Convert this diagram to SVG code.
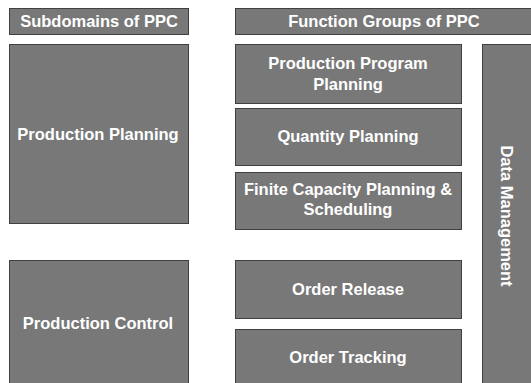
<svg xmlns="http://www.w3.org/2000/svg" width="531" height="383" viewBox="0 0 531 383">
  <style>
    .box { fill: #787878; stroke: #404040; stroke-width: 1; }
    .lbl { font-family: "Liberation Sans", Arial, sans-serif; font-weight: bold; font-size: 16.5px; fill: #ffffff; text-anchor: middle; }
  </style>
  <rect width="531" height="383" fill="#ffffff"/>

  <!-- left column: subdomains -->
  <g id="subdomains-header">
    <rect class="box" x="9.5" y="8.5" width="179" height="26"/>
    <text class="lbl" x="99" y="27">Subdomains of PPC</text>
  </g>
  <g id="production-planning">
    <rect class="box" x="9.5" y="44.5" width="179" height="179"/>
    <text class="lbl" x="98" y="140">Production Planning</text>
  </g>
  <g id="production-control">
    <rect class="box" x="9.5" y="260.5" width="179" height="140"/>
    <text class="lbl" x="98" y="329">Production Control</text>
  </g>

  <!-- middle column: function groups -->
  <g id="function-groups-header">
    <rect class="box" x="235.5" y="8.5" width="300" height="26"/>
    <text class="lbl" x="384" y="27">Function Groups of PPC</text>
  </g>
  <g id="production-program-planning">
    <rect class="box" x="235.5" y="44.5" width="226" height="59"/>
    <text class="lbl" x="348" y="69">Production Program</text>
    <text class="lbl" x="348" y="90">Planning</text>
  </g>
  <g id="quantity-planning">
    <rect class="box" x="235.5" y="108.5" width="226" height="57"/>
    <text class="lbl" x="348" y="142">Quantity Planning</text>
  </g>
  <g id="finite-capacity-planning">
    <rect class="box" x="235.5" y="172.5" width="226" height="57"/>
    <text class="lbl" x="348" y="195">Finite Capacity Planning &amp;</text>
    <text class="lbl" x="348" y="215">Scheduling</text>
  </g>
  <g id="order-release">
    <rect class="box" x="235.5" y="260.5" width="226" height="58"/>
    <text class="lbl" x="348" y="295">Order Release</text>
  </g>
  <g id="order-tracking">
    <rect class="box" x="235.5" y="329.5" width="226" height="70"/>
    <text class="lbl" x="348" y="363">Order Tracking</text>
  </g>

  <!-- right column: data management spans all function groups -->
  <g id="data-management">
    <rect class="box" x="482.5" y="44.5" width="60" height="360"/>
    <text class="lbl" transform="translate(501 216) rotate(90)" x="0" y="0">Data Management</text>
  </g>

  <g id="connectors"/>
</svg>
